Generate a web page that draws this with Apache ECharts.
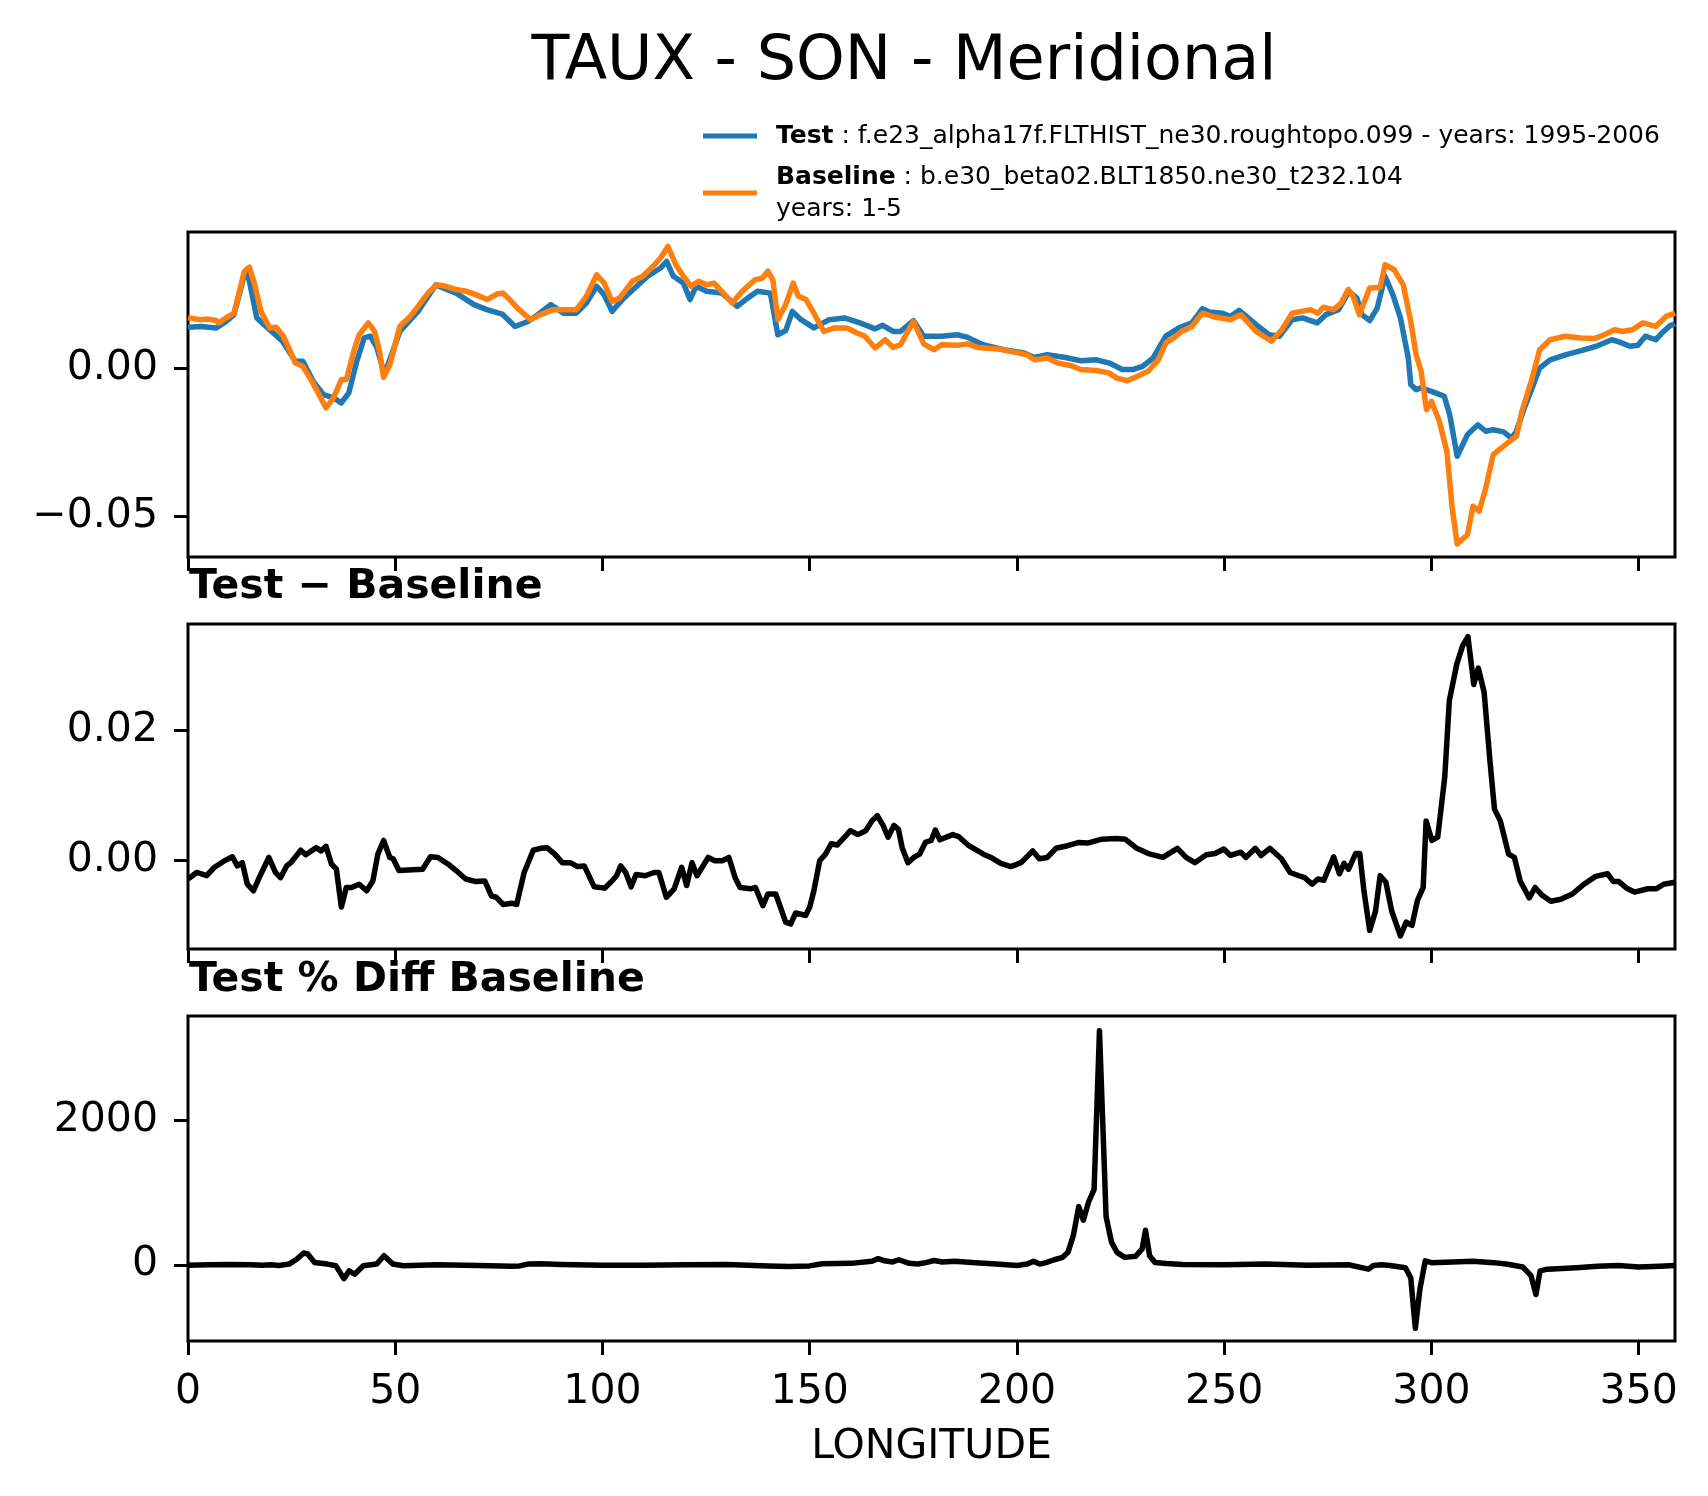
<!DOCTYPE html>
<html>
<head>
<meta charset="utf-8">
<script src="https://cdn.jsdelivr.net/npm/echarts@6/dist/echarts.min.js"></script>
<style>
  html, body { margin: 0; padding: 0; background: #fff; }
  #chart { width: 1708px; height: 1496px; }
</style>
</head>
<body>
<div id="chart"></div>
<script>
// longitude ticks shared by the three panels
var lonTicks = [0, 50, 100, 150, 200, 250, 300, 350];
var lonMax = 358.75;

// Test (blue) TAUX
var testLon = [0, 3.1, 6.8, 9.2, 11.1, 13.6, 14.4, 16.6, 19.7, 22.8, 25.9, 27.7, 30.2, 32.7, 35.1, 37.0, 38.8, 40.7, 42.5, 44.0,
  45.6, 47.4, 51.1, 55.5, 59.8, 64.7, 69.0, 72.1, 75.8, 78.9, 82.0, 84.4, 87.5, 90.6, 93.7, 96.1, 98.6, 100.4, 102.3, 104.8,
  107.8, 110.9, 114.0, 115.5, 117.1, 119.5, 121.1, 122.6, 125.1, 128.8, 132.5, 135.0, 137.4, 140.5, 142.3, 144.2, 145.8, 147.9, 151.0, 154.7,
  158.4, 162.1, 165.8, 167.6, 170.1, 171.9, 175.0, 177.5, 181.8, 185.6, 188.1, 191.8, 196.8, 201.7, 204.2, 207.3, 211.7, 215.4, 219.2, 222.3,
  225.4, 227.9, 230.3, 232.8, 235.9, 239.1, 242.2, 244.7, 246.5, 249.6, 251.5, 253.6, 257.7, 260.8, 263.3, 266.4, 268.9, 272.4, 274.5, 277.6,
  280.1, 282.0, 283.2, 285.1, 286.9, 288.8, 290.7, 292.5, 294.4, 295.0, 296.3, 297.5, 300.0, 303.1, 304.4, 306.2, 308.7, 311.2, 313.1, 314.9,
  317.4, 319.3, 320.5, 322.4, 324.3, 326.1, 328.6, 332.3, 336.1, 339.8, 343.5, 345.4, 347.9, 349.8, 351.6, 354.1, 356.0, 357.5, 358.75];
var testVal = [0.0140, 0.0143, 0.0138, 0.0160, 0.0183, 0.0318, 0.0324, 0.0172, 0.0132, 0.0093, 0.0025, 0.0025, -0.0043, -0.0088, -0.0099, -0.0116, -0.0082, 0.0025, 0.0104, 0.0110,
  0.0070, -0.0020, 0.0126, 0.0194, 0.0284, 0.0256, 0.0217, 0.0200, 0.0185, 0.0143, 0.0160, 0.0183, 0.0217, 0.0188, 0.0188, 0.0222, 0.0279, 0.0250, 0.0194, 0.0234,
  0.0273, 0.0313, 0.0341, 0.0363, 0.0313, 0.0290, 0.0234, 0.0279, 0.0262, 0.0256, 0.0211, 0.0239, 0.0262, 0.0256, 0.0115, 0.0129, 0.0194, 0.0166, 0.0138, 0.0166,
  0.0172, 0.0155, 0.0135, 0.0147, 0.0126, 0.0126, 0.0163, 0.0110, 0.0110, 0.0115, 0.0106, 0.0081, 0.0064, 0.0053, 0.0038, 0.0047, 0.0038, 0.0027, 0.0030, 0.0019,
  -0.0003, -0.0003, 0.0008, 0.0036, 0.0110, 0.0138, 0.0155, 0.0203, 0.0192, 0.0188, 0.0177, 0.0198, 0.0149, 0.0115, 0.0110, 0.0166, 0.0172, 0.0155, 0.0183, 0.0200,
  0.0262, 0.0239, 0.0183, 0.0163, 0.0205, 0.0313, 0.0250, 0.0172, 0.0036, -0.0054, -0.0071, -0.0065, -0.0077, -0.0094, -0.0156, -0.0297, -0.0223, -0.0190, -0.0212, -0.0207,
  -0.0214, -0.0235, -0.0212, -0.0133, -0.0065, 0.0002, 0.0030, 0.0047, 0.0061, 0.0076, 0.0098, 0.0090, 0.0076, 0.0079, 0.0110, 0.0098, 0.0126, 0.0145, 0.0152];

// Baseline (orange) TAUX
var baseLon = [0, 3.1, 4.9, 6.8, 7.4, 9.2, 11.1, 13.6, 14.8, 16.0, 17.6, 19.7, 21.3, 23.0, 24.3, 25.9, 27.7, 29.9, 31.4, 33.3,
  35.1, 37.0, 38.2, 40.1, 41.3, 43.5, 45.0, 46.2, 47.2, 48.7, 51.1, 53.6, 55.5, 57.9, 60.0, 62.2, 64.7, 67.2, 69.6, 72.1,
  74.6, 76.0, 77.6, 79.5, 82.6, 85.0, 88.1, 91.2, 93.7, 96.1, 98.6, 100.4, 102.3, 104.1, 107.2, 109.7, 112.2, 114.0, 115.8, 117.7,
  119.5, 121.4, 123.2, 125.1, 126.9, 128.8, 131.3, 133.7, 136.8, 138.6, 139.9, 141.1, 142.3, 144.2, 146.0, 147.3, 149.1, 151.0, 153.4, 155.9,
  159.0, 161.4, 163.3, 165.8, 168.2, 170.1, 171.9, 175.0, 177.5, 180.0, 181.8, 185.6, 188.1, 190.5, 195.5, 199.3, 202.4, 204.2, 207.3, 209.8,
  212.9, 215.4, 219.2, 222.3, 224.1, 226.6, 229.1, 231.6, 234.1, 235.9, 237.8, 239.7, 242.2, 244.7, 247.1, 251.5, 254.0, 257.7, 261.4, 263.9,
  266.4, 270.8, 272.6, 273.9, 276.4, 278.2, 279.9, 281.1, 282.6, 285.1, 287.6, 288.8, 291.0, 293.2, 295.0, 296.3, 297.5, 298.8, 300.0, 301.9,
  303.7, 305.0, 306.2, 308.7, 310.0, 311.5, 313.1, 314.9, 316.8, 318.7, 320.5, 321.8, 324.3, 326.1, 328.6, 332.3, 336.1, 339.2, 341.7, 344.2,
  346.0, 348.5, 351.0, 354.1, 356.6, 358.75];
var baseVal = [0.0172, 0.0166, 0.0168, 0.0163, 0.0155, 0.0172, 0.0188, 0.0330, 0.0344, 0.0290, 0.0194, 0.0138, 0.0140, 0.0110, 0.0070, 0.0019, 0.0008, -0.0043, -0.0082, -0.0133,
  -0.0099, -0.0037, -0.0037, 0.0064, 0.0115, 0.0155, 0.0126, 0.0059, -0.0029, 0.0014, 0.0143, 0.0177, 0.0211, 0.0256, 0.0284, 0.0279, 0.0268, 0.0262, 0.0250, 0.0234,
  0.0253, 0.0256, 0.0234, 0.0205, 0.0166, 0.0183, 0.0200, 0.0200, 0.0200, 0.0245, 0.0318, 0.0290, 0.0228, 0.0239, 0.0296, 0.0313, 0.0347, 0.0375, 0.0414, 0.0352,
  0.0313, 0.0279, 0.0296, 0.0284, 0.0290, 0.0262, 0.0222, 0.0262, 0.0301, 0.0307, 0.0330, 0.0301, 0.0166, 0.0217, 0.0290, 0.0245, 0.0234, 0.0188, 0.0126, 0.0138,
  0.0138, 0.0121, 0.0110, 0.0070, 0.0098, 0.0072, 0.0081, 0.0160, 0.0084, 0.0064, 0.0081, 0.0079, 0.0084, 0.0072, 0.0067, 0.0056, 0.0047, 0.0030, 0.0036, 0.0019,
  0.0011, -0.0003, -0.0006, -0.0015, -0.0032, -0.0041, -0.0026, -0.0009, 0.0030, 0.0087, 0.0104, 0.0126, 0.0143, 0.0188, 0.0177, 0.0166, 0.0183, 0.0126, 0.0093, 0.0132,
  0.0188, 0.0200, 0.0188, 0.0208, 0.0200, 0.0222, 0.0268, 0.0245, 0.0183, 0.0273, 0.0275, 0.0352, 0.0335, 0.0284, 0.0160, 0.0047, -0.0009, -0.0139, -0.0111, -0.0178,
  -0.0280, -0.0472, -0.0594, -0.0562, -0.0466, -0.0483, -0.0404, -0.0291, -0.0269, -0.0248, -0.0229, -0.0145, -0.0032, 0.0064, 0.0098, 0.0110, 0.0104, 0.0102, 0.0115, 0.0132,
  0.0126, 0.0132, 0.0155, 0.0143, 0.0177, 0.0188];

// Test - Baseline
var diffLon = [0, 2.1, 4.5, 6.4, 8.8, 10.7, 11.9, 13.1, 14.3, 15.8, 17.4, 19.5, 21.1, 22.3, 23.8, 24.8, 27.2, 28.4, 30.9, 32.1,
  33.3, 34.6, 35.8, 37.0, 38.2, 39.5, 41.3, 43.1, 44.6, 45.8, 47.2, 48.7, 49.5, 50.9, 54.2, 56.6, 58.5, 60.3, 62.7, 65.2,
  67.0, 69.5, 71.6, 73.2, 74.4, 76.0, 78.1, 79.3, 81.1, 83.3, 85.0, 86.6, 88.5, 90.3, 92.2, 94.0, 95.6, 98.0, 100.5, 102.0,
  103.4, 104.4, 105.6, 106.9, 108.1, 110.3, 112.4, 113.6, 115.4, 117.3, 119.1, 120.3, 121.6, 122.8, 125.5, 127.1, 128.9, 130.5, 132.0, 133.2,
  135.7, 136.9, 138.7, 139.9, 141.8, 144.2, 145.4, 146.6, 147.9, 149.0, 150.0, 151.0, 152.4, 153.8, 155.2, 156.6, 158.4, 159.8, 161.6, 163.5,
  165.0, 166.3, 167.7, 168.9, 170.3, 171.4, 172.3, 173.7, 175.1, 176.5, 177.9, 179.3, 180.3, 181.4, 184.5, 185.9, 188.4, 191.9, 194.0, 196.1,
  198.5, 201.0, 203.8, 205.4, 207.3, 209.4, 212.2, 215.0, 217.0, 220.5, 224.0, 226.1, 228.9, 231.7, 235.2, 238.7, 240.8, 242.9, 245.7, 247.8,
  249.9, 251.5, 254.0, 255.2, 257.5, 258.9, 261.0, 263.8, 265.9, 268.0, 269.4, 271.2, 272.6, 274.0, 276.4, 277.8, 278.9, 280.0, 281.7, 282.7,
  283.7, 285.1, 286.5, 287.6, 289.0, 290.4, 292.5, 293.9, 295.3, 296.6, 298.0, 298.7, 300.1, 301.5, 303.2, 304.3, 306.1, 307.5, 308.8, 310.2,
  311.3, 312.7, 314.1, 315.2, 316.6, 318.6, 320.0, 321.4, 323.6, 325.0, 326.7, 328.8, 331.2, 334.0, 336.8, 339.6, 342.5, 343.9, 345.2, 347.3,
  349.0, 352.2, 354.2, 356.0, 358.75];
var diffVal = [-0.0028, -0.0018, -0.0023, -0.0010, 0.0000, 0.0006, -0.0008, -0.0003, -0.0036, -0.0046, -0.0023, 0.0005, -0.0018, -0.0026, -0.0008, -0.0003, 0.0016, 0.0009, 0.0020, 0.0015,
  0.0022, -0.0005, -0.0013, -0.0071, -0.0041, -0.0041, -0.0036, -0.0046, -0.0031, 0.0010, 0.0031, 0.0005, 0.0003, -0.0015, -0.0014, -0.0013, 0.0006, 0.0005, -0.0005, -0.0018,
  -0.0028, -0.0032, -0.0031, -0.0054, -0.0056, -0.0067, -0.0065, -0.0067, -0.0018, 0.0016, 0.0019, 0.0020, 0.0010, -0.0003, -0.0003, -0.0009, -0.0008, -0.0040, -0.0042, -0.0033,
  -0.0023, -0.0008, -0.0018, -0.0040, -0.0021, -0.0023, -0.0018, -0.0018, -0.0056, -0.0043, -0.0010, -0.0038, -0.0003, -0.0023, 0.0005, 0.0000, 0.0000, 0.0005, -0.0026, -0.0041,
  -0.0043, -0.0041, -0.0069, -0.0051, -0.0051, -0.0094, -0.0097, -0.0080, -0.0082, -0.0084, -0.0071, -0.0046, 0.0000, 0.0010, 0.0026, 0.0024, 0.0036, 0.0046, 0.0040, 0.0046,
  0.0061, 0.0069, 0.0054, 0.0036, 0.0054, 0.0048, 0.0020, -0.0003, 0.0005, 0.0010, 0.0028, 0.0031, 0.0047, 0.0032, 0.0040, 0.0037, 0.0023, 0.0010, 0.0004, -0.0004,
  -0.0009, -0.0003, 0.0015, 0.0003, 0.0005, 0.0019, 0.0023, 0.0028, 0.0027, 0.0033, 0.0034, 0.0033, 0.0019, 0.0011, 0.0005, 0.0019, 0.0005, -0.0003, 0.0009, 0.0011,
  0.0018, 0.0008, 0.0013, 0.0005, 0.0019, 0.0008, 0.0019, 0.0003, -0.0018, -0.0023, -0.0026, -0.0036, -0.0028, -0.0030, 0.0006, -0.0020, -0.0004, -0.0013, 0.0011, 0.0011,
  -0.0046, -0.0107, -0.0077, -0.0023, -0.0033, -0.0077, -0.0115, -0.0094, -0.0099, -0.0061, -0.0041, 0.0061, 0.0031, 0.0036, 0.0128, 0.0245, 0.0301, 0.0329, 0.0343, 0.0270,
  0.0295, 0.0258, 0.0153, 0.0079, 0.0061, 0.0010, 0.0005, -0.0031, -0.0057, -0.0041, -0.0053, -0.0062, -0.0059, -0.0051, -0.0036, -0.0024, -0.0020, -0.0032, -0.0032, -0.0043,
  -0.0048, -0.0043, -0.0043, -0.0036, -0.0033];

// Test % Diff Baseline
var pctLon = [0, 5, 10, 15, 18, 20, 22, 24.4, 26.3, 27.9, 28.9, 30.5, 33.6, 35.7, 37.6, 38.9, 40.2, 42.3, 45.5, 47.3,
  49.4, 52, 60, 70, 78, 80, 82, 85, 90, 100, 110, 120, 130, 140, 145, 150, 153, 160, 165, 166.5,
  168, 170, 171.5, 174, 176, 178, 180, 182, 185, 190, 195, 200, 202.5, 204, 205.5, 207, 209, 211, 212.3, 213.6,
  214.9, 216, 217.3, 218.6, 219.9, 221.5, 222.8, 224.1, 226, 228.6, 230.2, 231, 232, 233.3, 236, 240, 250, 260, 270, 280,
  284.8, 286, 288, 290, 293.7, 295, 296.1, 297.2, 298.5, 300, 305, 310, 315, 318, 320, 322, 324, 325.2, 326.2, 328,
  335, 340, 345, 350, 355, 358.75];
var pctVal = [-5, 0, 5, 0, -5, 0, -10, 10, 80, 164, 150, 33, 10, -14, -192, -84, -131, -14, 10, 126,
  10, -14, 0, -10, -20, -15, 10, 15, 5, -5, -5, 0, 5, -15, -25, -15, 15, 20, 50, 85,
  55, 40, 70, 20, 10, 30, 60, 40, 50, 30, 10, -10, 10, 50, 10, 30, 70, 103, 173, 407,
  806, 618, 876, 1040, 3241, 665, 314, 173, 103, 117, 220, 478, 126, 33, 19, 5, 0, 10, -5, 0,
  -60, -10, 0, -10, -40, -180, -880, -340, 56, 30, 40, 50, 30, 10, -10, -30, -150, -412, -84, -60,
  -40, -20, -10, -30, -20, -10];

var FONT = 'DejaVu Sans';

function pairs(xs, ys) {
    var out = [];
    for (var i = 0; i < xs.length; i++) {
        out.push([xs[i], ys[i]]);
    }
    return out;
}

function minusSign(v, digits) {
    var s = v.toFixed(digits);
    return s.charAt(0) === '-' ? '\u2212' + s.slice(1) : s;
}

var panelTops = [232, 624, 1016];
var panelH = 325;

var grids = panelTops.map(function (t) {
    return {
        left: 188, top: t, width: 1487, height: panelH,
        show: true, borderColor: '#000', borderWidth: 3, backgroundColor: 'transparent'
    };
});

var xAxes = [0, 1, 2].map(function (i) {
    return {
        type: 'value', gridIndex: i, min: 0, max: lonMax,
        axisLine: {show: false, onZero: false},
        splitLine: {show: false},
        axisTick: {show: true, length: 14, customValues: lonTicks, lineStyle: {color: '#000', width: 3}},
        axisLabel: {
            show: i === 2, customValues: lonTicks, margin: 31,
            fontSize: 41, fontFamily: FONT, color: '#000'
        },
        name: i === 2 ? 'LONGITUDE' : '',
        nameLocation: 'middle',
        nameGap: 86,
        nameTextStyle: {fontSize: 41, fontFamily: FONT, color: '#000'}
    };
});

var yRanges = [[-0.0638, 0.0463], [-0.01352, 0.03625], [-1055, 3445]];
var yTicks = [[-0.05, 0], [0, 0.02], [0, 2000]];
var yDigits = [2, 2, 0];

var yAxes = [0, 1, 2].map(function (i) {
    return {
        type: 'value', gridIndex: i, min: yRanges[i][0], max: yRanges[i][1],
        axisLine: {show: false, onZero: false},
        splitLine: {show: false},
        axisTick: {show: true, length: 14, customValues: yTicks[i], lineStyle: {color: '#000', width: 3}},
        axisLabel: {
            customValues: yTicks[i], margin: 30,
            fontSize: 41, fontFamily: FONT, color: '#000',
            formatter: function (v) { return minusSign(v, yDigits[i]); }
        }
    };
});

function lineSeries(name, idx, xs, ys, color) {
    return {
        name: name, type: 'line', xAxisIndex: idx, yAxisIndex: idx,
        data: pairs(xs, ys),
        showSymbol: false, symbol: 'none',
        lineStyle: {color: color, width: 5.5, join: 'round'},
        itemStyle: {color: color},
        emphasis: {disabled: true}
    };
}

var option = {
    backgroundColor: '#fff',
    animation: false,
    grid: grids,
    xAxis: xAxes,
    yAxis: yAxes,
    legend: {
        data: ['Test', 'Baseline'],
        orient: 'vertical',
        left: 703, top: 120,
        padding: 0,
        itemWidth: 54, itemHeight: 5, itemGap: 9,
        icon: 'rect',
        selectedMode: false,
        textStyle: {
            fontSize: 25, fontFamily: FONT, color: '#000', lineHeight: 32,
            rich: {
                b: {fontSize: 25, fontFamily: FONT, fontWeight: 'bold', color: '#000', lineHeight: 32},
                sp: {width: 14, lineHeight: 32}
            }
        },
        formatter: function (name) {
            if (name === 'Test') {
                return '{sp|}{b|Test} : f.e23_alpha17f.FLTHIST_ne30.roughtopo.099 - years: 1995-2006';
            }
            return '{sp|}{b|Baseline} : b.e30_beta02.BLT1850.ne30_t232.104\n{sp|}years: 1-5';
        }
    },
    graphic: [
        {
            type: 'text', x: 904, y: 63,
            style: {text: 'TAUX - SON - Meridional', fontSize: 62, fontFamily: FONT, fill: '#000',
                textAlign: 'center', textVerticalAlign: 'middle'}
        },
        {
            type: 'text', x: 189, y: 587,
            style: {text: 'Test \u2212 Baseline', fontSize: 41, fontWeight: 'bold', fontFamily: FONT, fill: '#000',
                textAlign: 'left', textVerticalAlign: 'middle'}
        },
        {
            type: 'text', x: 189, y: 980,
            style: {text: 'Test % Diff Baseline', fontSize: 41, fontWeight: 'bold', fontFamily: FONT, fill: '#000',
                textAlign: 'left', textVerticalAlign: 'middle'}
        }
    ],
    series: [
        lineSeries('Test', 0, testLon, testVal, '#1f77b4'),
        lineSeries('Baseline', 0, baseLon, baseVal, '#ff7f0e'),
        lineSeries('Test \u2212 Baseline', 1, diffLon, diffVal, '#000'),
        lineSeries('Test % Diff Baseline', 2, pctLon, pctVal, '#000')
    ]
};

var chart = echarts.init(document.getElementById('chart'));
chart.setOption(option);
</script>
</body>
</html>
